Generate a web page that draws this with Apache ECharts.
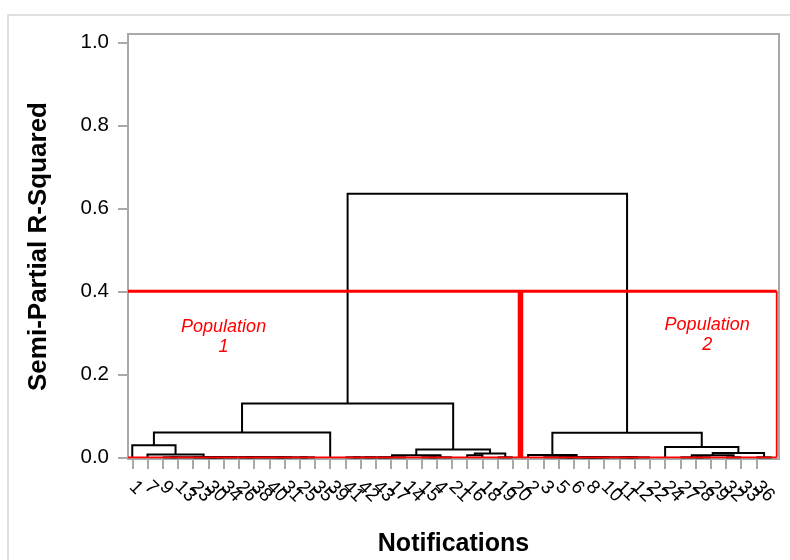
<!DOCTYPE html>
<html>
<head>
<meta charset="utf-8">
<title>Notifications dendrogram</title>
<script src="https://cdn.jsdelivr.net/npm/echarts@6/dist/echarts.min.js"></script>
<style>
  html, body { margin: 0; padding: 0; background: #fff; }
  #chart { width: 790px; height: 560px; }
</style>
</head>
<body>
<div id="chart"></div>
<script>
// Leaf labels in dendrogram order (left to right)
const leafLabels = [
  '1', '7', '9', '13', '23', '30', '34', '26', '38', '40', '31', '25', '35', '39',
  '41', '42', '43', '17', '14', '15', '4', '21', '16', '18', '19', '20',
  '2', '3', '5', '6', '8', '10', '11', '12', '22', '24', '27', '28', '29', '32', '33', '36', '37'
];

// Linkage: ids below leafLabels.length are leaves, id n + k is the k-th merge
const mergeLeft  = [ 2,  5,  4,  7,  9, 11, 47, 46, 45, 43,  1,  0, 54, 14, 56, 57, 58, 19, 60, 59, 22, 24, 63, 62, 55,
                    28, 30, 68, 32, 71, 70, 27, 26, 37, 36, 39, 77, 41, 79, 35, 75, 67];
const mergeRight = [ 3,  6, 44,  8, 10, 12, 48, 49, 50, 51, 52, 53, 13, 15, 16, 17, 18, 20, 21, 61, 23, 25, 64, 65, 66,
                    29, 31, 69, 33, 34, 72, 73, 74, 38, 76, 40, 78, 42, 80, 81, 82, 83];
const mergeHeight = [0, 0, 0, 0, 0, 0, 0, 0, 0, 0, 0.007, 0.029, 0.060, 0, 0, 0, 0, 0, 0, 0.005, 0.005, 0, 0.009, 0.019, 0.130,
                    0, 0, 0, 0, 0, 0, 0, 0.0055, 0, 0, 0, 0.005, 0, 0.0103, 0.025, 0.059, 0.635];

// Cut that splits the tree into two populations
const cutHeight = 0.4;
const populationEdges = [-0.28, 25.5, 42.33];
const populationNames = ['Population\n1', 'Population\n2'];
const populationLabelX = [6.0, 37.76];
const populationLabelY = [0.29, 0.295];

const yTickValues = [0, 0.2, 0.4, 0.6, 0.8, 1.0];

// Lay out the tree: each merge sits midway between its two children
const nodeX = leafLabels.map((_, i) => i);
const nodeH = leafLabels.map(() => 0);
const links = [];
for (let k = 0; k < mergeLeft.length; k++) {
  const a = mergeLeft[k], b = mergeRight[k], h = mergeHeight[k];
  links.push([nodeX[a], nodeH[a], nodeX[b], nodeH[b], h]);
  nodeX.push((nodeX[a] + nodeX[b]) / 2);
  nodeH.push(h);
}
const leafIndex = leafLabels.map((_, i) => i);

// Red cut lines: [x1, y1, x2, y2, kind] where kind 0 = thin, 1 = cut, 2 = divider
const lastEdge = populationEdges[populationEdges.length - 1];
const cutSegments = [
  [populationEdges[0], 0, lastEdge, 0, 0],
  [lastEdge, 0, lastEdge, cutHeight, 0],
  [populationEdges[0], cutHeight, lastEdge, cutHeight, 1]
];
for (let i = 1; i < populationEdges.length - 1; i++) {
  cutSegments.push([populationEdges[i], 0, populationEdges[i], cutHeight, 2]);
}
const populationLabels = populationNames.map((t, i) => [populationLabelX[i], populationLabelY[i], t]);

const FONT = 'Liberation Sans, Arial, sans-serif';
const AXIS_GRAY = '#a9a9a9';

const chart = echarts.init(document.getElementById('chart'), null, { renderer: 'canvas' });
chart.setOption({
  animation: false,
  backgroundColor: '#fff',
  graphic: [{
    type: 'rect', silent: true, z: -10,
    shape: { x: 8, y: 15, width: 820, height: 600 },
    style: { fill: 'none', stroke: '#d6d6d6', lineWidth: 1.5 }
  }],
  grid: {
    left: 128, right: 11, top: 34, bottom: 101,
    show: true, borderColor: AXIS_GRAY, borderWidth: 2,
    outerBoundsMode: 'none', containLabel: false
  },
  xAxis: {
    type: 'value', min: -0.28, max: 42.48,
    name: 'Notifications', nameLocation: 'middle', nameGap: 73,
    nameTextStyle: { fontFamily: FONT, fontSize: 25, fontWeight: 'bold', color: '#000' },
    axisLine: { show: true, onZero: false, lineStyle: { color: AXIS_GRAY, width: 2 } },
    axisTick: { show: true, customValues: leafIndex, length: 10, lineStyle: { color: AXIS_GRAY, width: 2 } },
    axisLabel: {
      customValues: leafIndex,
      formatter: v => leafLabels[Math.round(v)],
      rotate: -45, margin: 25,
      fontFamily: FONT, fontSize: 19, color: '#000'
    },
    splitLine: { show: false }
  },
  yAxis: {
    type: 'value', min: -0.004, max: 1.02,
    name: 'Semi-Partial R-Squared', nameLocation: 'middle', nameGap: 76,
    nameTextStyle: { fontFamily: FONT, fontSize: 26, fontWeight: 'bold', color: '#000' },
    axisLine: { show: true, onZero: false, lineStyle: { color: AXIS_GRAY, width: 2 } },
    axisTick: { show: true, customValues: yTickValues, length: 10, lineStyle: { color: AXIS_GRAY, width: 2 } },
    axisLabel: {
      customValues: yTickValues,
      formatter: v => v.toFixed(1),
      margin: 19, fontFamily: FONT, fontSize: 20.5, color: '#000'
    },
    splitLine: { show: false }
  },
  series: [
    {
      name: 'tree', type: 'custom', z: 3,
      data: links,
      encode: { x: [0, 2], y: [1, 3, 4] },
      renderItem(params, api) {
        const a = api.coord([api.value(0), api.value(1)]);
        const b = api.coord([api.value(0), api.value(4)]);
        const c = api.coord([api.value(2), api.value(4)]);
        const d = api.coord([api.value(2), api.value(3)]);
        return {
          type: 'polyline',
          shape: { points: [a, b, c, d] },
          style: { stroke: '#000', lineWidth: 2, fill: 'none' }
        };
      }
    },
    {
      name: 'cut', type: 'custom', z: 4,
      data: cutSegments,
      encode: { x: [0, 2], y: [1, 3] },
      renderItem(params, api) {
        const p = api.coord([api.value(0), api.value(1)]);
        const q = api.coord([api.value(2), api.value(3)]);
        const kind = api.value(4);
        return {
          type: 'line',
          shape: { x1: p[0], y1: p[1], x2: q[0], y2: q[1] },
          style: { stroke: '#ff0000', lineWidth: kind === 2 ? 5.5 : (kind === 1 ? 3 : 1.8) }
        };
      }
    },
    {
      name: 'populations', type: 'custom', z: 5,
      data: populationLabels,
      encode: { x: 0, y: 1 },
      renderItem(params, api) {
        const p = api.coord([api.value(0), api.value(1)]);
        return {
          type: 'text',
          x: p[0], y: p[1],
          style: {
            text: populationLabels[params.dataIndex][2],
            fill: '#ff0000',
            font: 'italic 18px ' + FONT,
            align: 'center', verticalAlign: 'middle', lineHeight: 20
          }
        };
      }
    }
  ]
});
</script>
</body>
</html>
